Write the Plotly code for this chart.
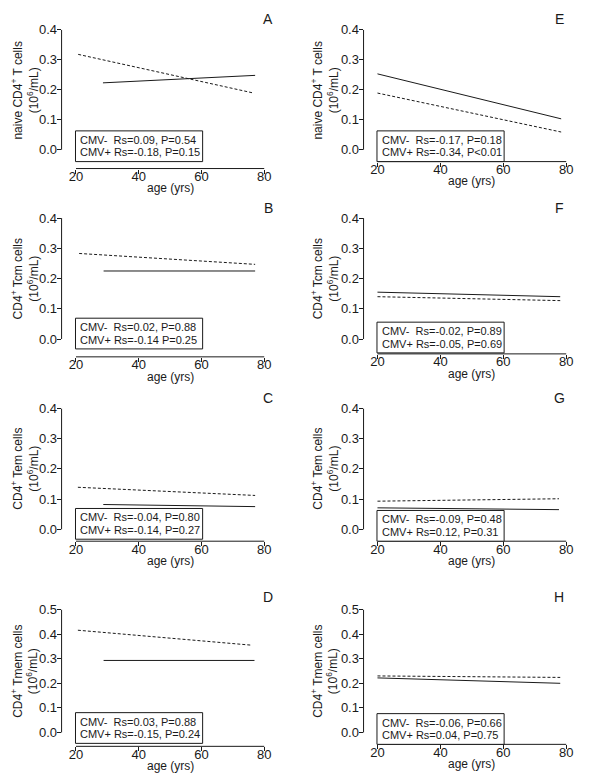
import plotly.graph_objects as go

# ---------------- data ----------------
panel_letters = ["A", "B", "C", "D", "E", "F", "G", "H"]
cell_labels = ["naive CD4<sup>+</sup> T cells", "CD4<sup>+</sup> Tcm cells",
               "CD4<sup>+</sup> Tem cells", "CD4<sup>+</sup> Tmem cells"]
unit_label = "(10<sup>6</sup>/mL)"
x_label = "age (yrs)"
x_ticks = [20, 40, 60, 80]
y_max = [0.4, 0.4, 0.4, 0.5, 0.4, 0.4, 0.4, 0.5]

# CMV- regression line (solid)
cmv_neg_age_start = [28.6, 28.8, 28.7, 28.8, 20.0, 20.0, 20.0, 20.0]
cmv_neg_age_end = [77.1, 77.1, 77.1, 76.9, 78.4, 78.1, 77.7, 78.1]
cmv_neg_start = [0.223, 0.225, 0.082, 0.293, 0.253, 0.155, 0.071, 0.222]
cmv_neg_end = [0.248, 0.225, 0.075, 0.293, 0.103, 0.140, 0.065, 0.200]

# CMV+ regression line (dashed)
cmv_pos_age_start = [20.7, 21.0, 20.6, 20.6, 20.0, 20.0, 20.0, 20.0]
cmv_pos_age_end = [76.2, 77.1, 77.1, 76.1, 78.4, 78.1, 77.7, 78.1]
cmv_pos_start = [0.318, 0.283, 0.139, 0.416, 0.189, 0.140, 0.093, 0.230]
cmv_pos_end = [0.190, 0.247, 0.112, 0.355, 0.059, 0.127, 0.101, 0.224]

stats_neg = ["Rs=0.09, P=0.54", "Rs=0.02, P=0.88", "Rs=-0.04, P=0.80", "Rs=0.03, P=0.88",
             "Rs=-0.17, P=0.18", "Rs=-0.02, P=0.89", "Rs=-0.09, P=0.48", "Rs=-0.06, P=0.66"]
stats_pos = ["Rs=-0.18, P=0.15", "Rs=-0.14 P=0.25", "Rs=-0.14, P=0.27", "Rs=-0.15, P=0.24",
             "Rs=-0.34, P<0.01", "Rs=-0.05, P=0.69", "Rs=0.12, P=0.31", "Rs=0.04, P=0.75"]

# ---------------- layout (pixels) ----------------
W, H = 600, 784
col_yaxis = [62, 366]
col_x20 = [76.5, 380]
col_x80 = [266, 570]
row_top = [23, 213, 405, 608]
row_zero = [144, 335, 527, 732]
axis_px = [163, 353, 539, 746, 156, 350, 539, 744]
box_bottom_px = [156, 345, 537, 743, 156, 349, 539, 744]
box_height = 31
box_width = 128
letter_x = [270, 563]
letter_y = [12, 203, 395, 595]
ytitle_x = [25, 327]

FONT = "Liberation Sans, Arial, sans-serif"
INK = "#1a1a1a"

fig = go.Figure()
annotations = []
shapes = []
layout_axes = {}

for i in range(8):
    col, row = i // 4, i % 4
    n = i + 1
    xa = "xaxis" if n == 1 else f"xaxis{n}"
    ya = "yaxis" if n == 1 else f"yaxis{n}"
    xr = "x" if n == 1 else f"x{n}"
    yr = "y" if n == 1 else f"y{n}"

    ppy = (col_x80[col] - col_x20[col]) / 60.0
    x_lo = 20 - (col_x20[col] - col_yaxis[col]) / ppy
    x_hi = 80 + 3 / ppy
    top, zero, ax = row_top[row], row_zero[row], axis_px[i]
    ymax = y_max[i]
    y_lo = -ymax * (ax - zero) / (zero - top)

    layout_axes[xa] = dict(
        domain=[col_yaxis[col] / W, (col_x80[col] + 3) / W],
        range=[x_lo, x_hi], anchor=yr, tickvals=x_ticks, ticks="outside",
        ticklen=4, tickcolor=INK, showline=False, showgrid=False, zeroline=False,
        ticklabelstandoff=-8,
        tickfont=dict(size=13, color=INK, family=FONT),
    )
    layout_axes[ya] = dict(
        domain=[1 - ax / H, 1 - top / H], range=[y_lo, ymax], anchor=xr,
        tick0=0, dtick=0.1, tickformat=".1f", ticks="outside", ticklen=4,
        tickcolor=INK, showline=False, showgrid=False, zeroline=False,
        ticklabelstandoff=-3,
        tickfont=dict(size=13, color=INK, family=FONT),
    )
    shapes.append(dict(type="line", xref=f"{xr} domain", yref=yr, x0=0, x1=0,
                       y0=0, y1=ymax, line=dict(color=INK, width=1)))
    shapes.append(dict(type="line", xref=xr, yref=f"{yr} domain", x0=20, x1=80,
                       y0=0, y1=0, line=dict(color=INK, width=1)))

    fig.add_trace(go.Scatter(
        x=[cmv_neg_age_start[i], cmv_neg_age_end[i]], y=[cmv_neg_start[i], cmv_neg_end[i]],
        mode="lines", line=dict(color=INK, width=1), xaxis=xr, yaxis=yr, showlegend=False))
    fig.add_trace(go.Scatter(
        x=[cmv_pos_age_start[i], cmv_pos_age_end[i]], y=[cmv_pos_start[i], cmv_pos_end[i]],
        mode="lines", line=dict(color=INK, width=1, dash="3px,2px"), xaxis=xr, yaxis=yr,
        showlegend=False))

    # stats box (rectangle + two text lines)
    bx0 = col_x20[col] - 0.5
    bb = box_bottom_px[i]
    bt = bb - box_height
    shapes.append(dict(type="rect", xref="paper", yref="paper",
                       x0=bx0 / W, x1=(bx0 + box_width) / W,
                       y0=1 - bb / H, y1=1 - bt / H,
                       line=dict(color=INK, width=1), fillcolor="white", layer="above"))
    for k, txt in enumerate(["CMV-\u00a0 " + stats_neg[i], "CMV+ " + stats_pos[i]]):
        annotations.append(dict(
            xref="paper", yref="paper", x=(bx0 + 3) / W, y=1 - (bt + 9 + 12.8 * k) / H,
            xanchor="left", yanchor="middle", align="left", showarrow=False,
            text=txt, font=dict(size=11, color=INK, family=FONT)))
    # panel letter
    annotations.append(dict(
        xref="paper", yref="paper", x=letter_x[col] / W, y=1 - letter_y[row] / H,
        xanchor="center", yanchor="middle", showarrow=False, text=panel_letters[i],
        font=dict(size=14, color=INK, family=FONT)))
    # x title
    annotations.append(dict(
        xref="paper", yref="paper", x=(col_x20[col] + col_x80[col]) / 2 / W,
        y=1 - (ax + 20) / H, xanchor="center", yanchor="middle", showarrow=False,
        text=x_label, font=dict(size=12, color=INK, family=FONT)))
    # y title
    annotations.append(dict(
        xref="paper", yref="paper", x=ytitle_x[col] / W, y=1 - (top + zero) / 2 / H,
        xanchor="center", yanchor="middle", showarrow=False, textangle=-90,
        text=cell_labels[row] + "<br>" + unit_label,
        font=dict(size=12, color=INK, family=FONT)))

fig.update_layout(
    width=W, height=H, margin=dict(l=0, r=0, t=0, b=0),
    paper_bgcolor="white", plot_bgcolor="white",
    font=dict(family=FONT, color=INK),
    annotations=annotations, shapes=shapes, **layout_axes)

fig.write_html(
    "out.html", config={"displayModeBar": False},
    post_script="document.body.style.margin='0';document.body.style.padding='0';"
                "document.documentElement.style.overflow='hidden';")
